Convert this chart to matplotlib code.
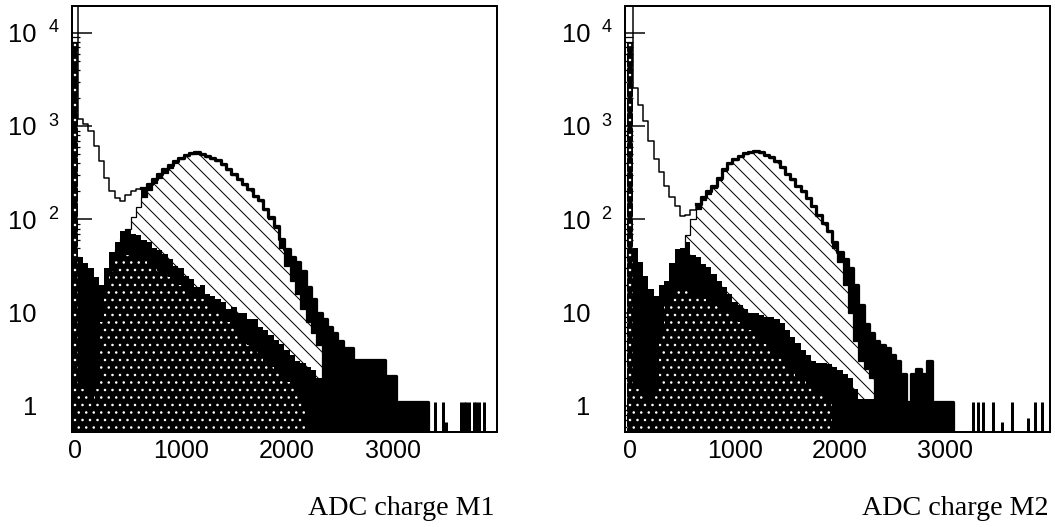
import numpy as np
import matplotlib.pyplot as plt
from matplotlib.ticker import LogLocator, NullFormatter, FixedLocator

DPI = 90
FLOOR = 0.1  # drawing floor for empty bins (below the visible y range)

# 50-count ADC bins, centred on 0, 50, ..., 3950
BIN_EDGES = np.arange(-25, 4000, 50)

# ---------------- module M1 ----------------
m1_total = [
    30000, 1200, 1050, 900, 620, 420, 280, 200, 170, 158,
    185, 200, 210, 220, 240, 275, 310, 345, 385, 425,
    460, 495, 520, 525, 510, 485, 455, 430, 390, 350,
    310, 275, 240, 210, 180, 160, 130, 105, 85, 62,
    48, 40, 35, 28, 19, 14, 10, 8.5, 7, 6,
    5, 4.2, 4.2, 3.1, 3.1, 3.1, 3.1, 3.1, 3.1, 2.1,
    2.1, 1.1, 1.1, 1.1, 1.1, 1.1, 1.1, 0, 0, 0,
    0, 0, 0, 0, 0, 0, 0, 0, 0, 0,
]
m1_signal = [
    0, 0, 0, 0, 0, 8, 15, 30, 48, 62,
    80, 105, 135, 175, 207, 245, 282, 319, 361, 403,
    440, 477, 504, 510, 496, 472, 444, 420, 381, 342,
    303, 269, 235, 205, 176, 156, 127, 102, 82, 50,
    32, 22, 16, 11, 8, 6, 4.5, 0, 0, 0,
    0, 0, 0, 0, 0, 0, 0, 0, 0, 0,
    0, 0, 0, 0, 0, 0, 0, 0, 0, 0,
    0, 0, 0, 0, 0, 0, 0, 0, 0, 0,
]
m1_background = [
    8000, 1.5, 1.5, 1.2, 1.5, 8, 18, 28, 36, 40,
    42, 40, 38, 36, 33, 30, 28, 26, 24, 22,
    20, 18, 16, 15, 14, 12.5, 11, 10, 9, 8,
    7, 6, 5, 4.5, 4, 3.5, 3, 2.6, 2.3, 2,
    1.8, 1.6, 1.4, 1.2, 0, 0, 0, 0, 0, 0,
    0, 0, 0, 0, 0, 0, 0, 0, 0, 0,
    0, 0, 0, 0, 0, 0, 0, 0, 0, 0,
    0, 0, 0, 0, 0, 0, 0, 0, 0, 0,
]
# upper envelope of the bin-to-bin fluctuations of the background
m1_spread = [
    0, 40, 34, 30, 24, 20, 30, 45, 58, 75,
    78, 70, 68, 60, 57, 50, 47, 43, 38, 32,
    30, 25, 23, 19, 20, 16, 15, 14, 13, 11,
    11.5, 10, 10, 8.5, 8.5, 7, 6.6, 5.8, 5.1, 4.6,
    4, 3.5, 3, 2.9, 2.6, 2.4, 2, 0, 0, 0,
    0, 0, 0, 0, 0, 0, 0, 0, 0, 0,
    0, 0, 0, 0, 0, 0, 0, 0, 0, 0,
    0, 0, 0, 0, 0, 0, 0, 0, 0, 0,
]
m1_hits = [3400, 3475, 3500, 3640, 3665, 3690, 3715, 3760, 3785, 3810, 3860]
m1_hit_counts = [1.1, 1.1, 0.68, 1.1, 1.1, 1.1, 1.1, 1.1, 1.1, 1.1, 1.1]

# ---------------- module M2 ----------------
m2_total = [
    30000, 2600, 1700, 1150, 700, 450, 320, 230, 175, 140,
    110, 112, 125, 145, 175, 200, 230, 280, 345, 400,
    445, 485, 515, 535, 540, 525, 495, 465, 420, 370,
    310, 270, 230, 200, 170, 140, 112, 92, 75, 58,
    45, 38, 30, 20, 12, 7.5, 6, 5, 4.5, 4.2,
    3.5, 3, 2.2, 1.1, 2.2, 2.5, 2.2, 3, 1.1, 1.1,
    1.1, 1.1, 0, 0, 0, 0, 0, 0, 0, 0,
    0, 0, 0, 0, 0, 0, 0, 0, 0, 0,
]
m2_signal = [
    0, 0, 0, 0, 0, 0, 0, 5, 15, 30,
    45, 68, 100, 128, 160, 186, 218, 268, 334, 390,
    436, 477, 508, 528, 534, 520, 490, 461, 416, 367,
    307, 268, 228, 198, 168, 138, 110, 90, 73, 50,
    35, 20, 10, 5, 3, 2.5, 2, 0, 0, 0,
    0, 0, 0, 0, 0, 0, 0, 0, 0, 0,
    0, 0, 0, 0, 0, 0, 0, 0, 0, 0,
    0, 0, 0, 0, 0, 0, 0, 0, 0, 0,
]
m2_background = [
    8000, 1.5, 1.5, 1.2, 1.2, 1.5, 6, 12, 16, 18,
    18, 17, 16, 15, 14, 13, 12, 11.5, 11, 10,
    9, 8, 7, 6.5, 6, 5.2, 4.6, 4, 3.6, 3.2,
    2.8, 2.4, 2.1, 1.9, 1.7, 1.5, 1.4, 1.3, 1.2, 0,
    0, 0, 0, 0, 0, 0, 0, 0, 0, 0,
    0, 0, 0, 0, 0, 0, 0, 0, 0, 0,
    0, 0, 0, 0, 0, 0, 0, 0, 0, 0,
    0, 0, 0, 0, 0, 0, 0, 0, 0, 0,
]
m2_spread = [
    0, 50, 35, 25, 18, 15, 20, 22, 34, 48,
    50, 57, 42, 40, 33, 31, 26, 22, 19, 16,
    13, 12, 11, 10, 10, 9.5, 9, 9, 8.5, 7.8,
    6.5, 5.5, 4.7, 4, 3.5, 3, 2.9, 2.9, 2.8, 2.6,
    2.4, 2.2, 2, 1.5, 1.2, 1.2, 1.2, 0, 0, 0,
    0, 0, 0, 0, 0, 0, 0, 0, 0, 0,
    0, 0, 0, 0, 0, 0, 0, 0, 0, 0,
    0, 0, 0, 0, 0, 0, 0, 0, 0, 0,
]
m2_hits = [3267, 3314, 3362, 3457, 3543, 3638, 3790, 3857, 3924]
m2_hit_counts = [1.1, 1.1, 1.1, 1.1, 0.68, 1.1, 0.75, 1.1, 1.1]


def lift(values):
    v = np.asarray(values, dtype=float)
    return np.where(v > 0, v, FLOOR)


def draw_panel(ax, total, signal, background, spread, hits, hit_counts, xlim):
    centers = 0.5 * (BIN_EDGES[:-1] + BIN_EDGES[1:])
    total = lift(total)

    # solid black under the total above the pedestal region
    ax.stairs(np.where(centers >= 650, total, FLOOR), BIN_EDGES, fill=True,
              baseline=FLOOR, color="black", lw=0, zorder=1)
    ax.stairs(lift(signal), BIN_EDGES, fill=True, baseline=FLOOR,
              facecolor="white", edgecolor="black", hatch="\\\\", lw=1.0, zorder=2)
    ax.stairs(lift(spread), BIN_EDGES, fill=True, baseline=FLOOR,
              color="black", lw=0, zorder=3)
    ax.stairs(lift(background), BIN_EDGES, fill=True, baseline=FLOOR,
              facecolor="black", edgecolor="white", hatch="..", lw=0, zorder=4)

    y = np.append(total, FLOOR)
    ax.step(BIN_EDGES, y, where="post", color="black", lw=1.2, zorder=5)
    thick = np.where(np.append(centers, 4000) >= 650, y, np.nan)
    ax.step(BIN_EDGES, thick, where="post", color="black", lw=2.6, zorder=5)

    ax.vlines(hits, FLOOR, hit_counts, color="black", lw=2.4, zorder=6)

    ax.set_yscale("log")
    ax.set_xlim(*xlim)
    ax.set_ylim(0.525, 1.95e4)

    ax.yaxis.set_major_locator(FixedLocator([1, 10, 100, 1000, 10000]))
    ax.yaxis.set_minor_locator(LogLocator(base=10, subs=range(2, 10)))
    ax.yaxis.set_minor_formatter(NullFormatter())
    ax.tick_params(axis="y", which="major", direction="in", length=16, width=1.2,
                   labelleft=False)
    ax.tick_params(axis="y", which="minor", direction="in", length=6, width=1.0)

    ax.set_xticks([0, 1000, 2000, 3000])
    ax.tick_params(axis="x", direction="in", length=8, width=1.2, pad=6,
                   labelsize=20)

    for spine in ax.spines.values():
        spine.set_linewidth(1.6)
        spine.set_zorder(10)

    # PAW style decade labels: "10" with a detached exponent
    for k in range(5):
        base = "1" if k == 0 else "10"
        ax.annotate(base, xy=(0, 10 ** k), xycoords=("axes fraction", "data"),
                    xytext=(-28, -7.3), textcoords="offset points",
                    ha="right", va="baseline", fontsize=20.5)
        if k >= 2:
            ax.annotate(str(k), xy=(0, 10 ** k), xycoords=("axes fraction", "data"),
                        xytext=(-19, 0.5), textcoords="offset points",
                        ha="left", va="baseline", fontsize=14.5)


def main():
    plt.rcParams["font.family"] = ["Liberation Sans", "DejaVu Sans"]
    plt.rcParams["hatch.linewidth"] = 0.8

    fig = plt.figure(figsize=(1055 / DPI, 527 / DPI), dpi=DPI)
    W, H = 1055.0, 527.0
    ax1 = fig.add_axes([72 / W, 1 - 432 / H, 425 / W, 426 / H])
    ax2 = fig.add_axes([625 / W, 1 - 432 / H, 425 / W, 426 / H])

    draw_panel(ax1, m1_total, m1_signal, m1_background, m1_spread,
               m1_hits, m1_hit_counts, (-28, 3980))
    draw_panel(ax2, m2_total, m2_signal, m2_background, m2_spread,
               m2_hits, m2_hit_counts, (-48, 4000))

    fig.text(495 / W, 1 - 515 / H, "ADC charge M1", ha="right", va="baseline",
             family="Liberation Serif", fontsize=22.5)
    fig.text(1048 / W, 1 - 515 / H, "ADC charge M2", ha="right", va="baseline",
             family="Liberation Serif", fontsize=22.5)

    fig.savefig("out.png", dpi=DPI, facecolor="white")
    plt.close(fig)


if __name__ == "__main__":
    main()
